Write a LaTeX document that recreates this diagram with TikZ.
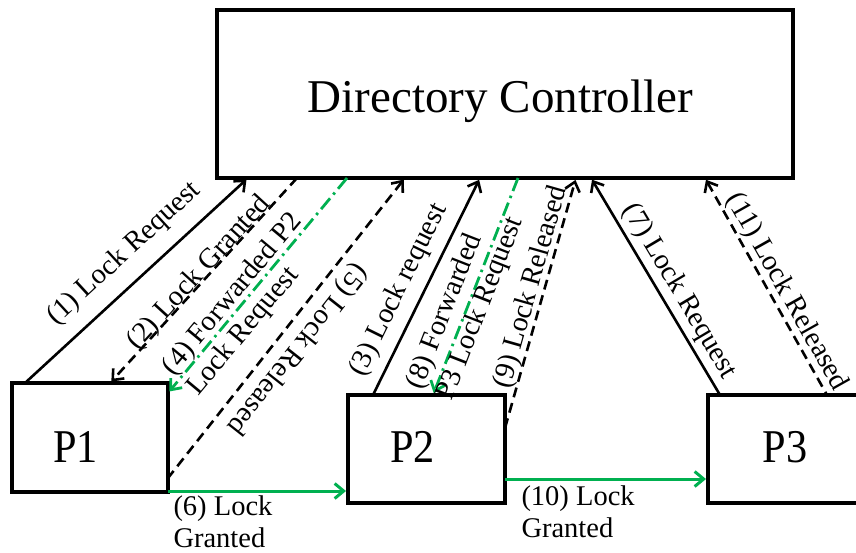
\documentclass[tikz,border=0pt]{standalone}
\usepackage{fontspec}
\setmainfont{Liberation Serif}
\usetikzlibrary{arrows.meta,calc}
\definecolor{grantgreen}{RGB}{0,176,80}
\begin{document}
\begin{tikzpicture}[x=1pt,y=-1pt,
  box/.style={draw, line width=4pt, rectangle, inner sep=0pt, outer sep=0pt},
  boxtext/.style={inner sep=0pt, anchor=base, font=\fontsize{47}{50}\selectfont},
  lbl/.style={inner sep=0pt, font=\fontsize{28.5}{32}\selectfont},
  tip/.tip={Straight Barb[length=9pt,width=15pt]},
  msg/.style={line width=2.6pt, line cap=butt},
  fwd/.style={msg, -tip, shorten >=2pt},
  back/.style={msg, tip-, shorten <=2pt},
  dashedmsg/.style={dash pattern=on 10pt off 6pt},
  forward/.style={msg, draw=grantgreen, line width=2.8pt,
    dash pattern=on 14pt off 5pt on 2.5pt off 5pt, -tip, shorten >=2pt},
  grant/.style={msg, draw=grantgreen, line width=3pt, -tip, shorten >=2pt},
]
\useasboundingbox (0,0) rectangle (856,552);

% the directory controller and the three processors
\node[box, minimum width=576pt, minimum height=168pt] (ctrl) at (505,94) {};
\node[box, minimum width=156pt, minimum height=109pt] (p1) at (90,437.5) {};
\node[box, minimum width=157pt, minimum height=108pt] (p2) at (426.5,449) {};
\node[box, minimum width=156pt, minimum height=108pt] (p3) at (786,449) {};

\node[boxtext] (ctrltext) at (500.5,112) {Directory Controller};
\node[boxtext, xscale=0.9] (p1text) at (75.5,462) {P1};
\node[boxtext, xscale=0.9] (p2text) at (412.5,462) {P2};
\node[boxtext, xscale=0.9] (p3text) at (785,462) {P3};

% attachment points on the controller
\coordinate (c1) at ($(ctrl.south west)+(31,0)$);
\coordinate (c2) at ($(ctrl.south west)+(80,0)$);
\coordinate (c3) at ($(ctrl.south west)+(130,0)$);
\coordinate (c4) at ($(ctrl.south west)+(188,0)$);
\coordinate (c5) at ($(ctrl.south west)+(263,0)$);
\coordinate (c6) at ($(ctrl.south west)+(301,0)$);
\coordinate (c7) at ($(ctrl.south west)+(359,0)$);
\coordinate (c8) at ($(ctrl.south west)+(374,0)$);
\coordinate (c9) at ($(ctrl.south west)+(488,0)$);

% attachment points on the processors
\coordinate (p1a) at ($(p1.north west)+(13,0)$);
\coordinate (p1b) at ($(p1.north west)+(98,0)$);
\coordinate (p1c) at ($(p1.north east)+(0,10)$);
\coordinate (p1d) at ($(p1.south east)+(0,-14)$);
\coordinate (p1e) at ($(p1.south east)+(0,-1)$);
\coordinate (p2a) at ($(p2.north west)+(25,0)$);
\coordinate (p2b) at ($(p2.north west)+(85,0)$);
\coordinate (p2c) at ($(p2.north east)+(0,33)$);
\coordinate (p2d) at ($(p2.south west)+(0,-12)$);
\coordinate (p2e) at ($(p2.south east)+(0,-24)$);
\coordinate (p3a) at ($(p3.north west)+(12,0)$);
\coordinate (p3b) at ($(p3.north west)+(119,0)$);
\coordinate (p3c) at ($(p3.south west)+(0,-24)$);

% P1 <-> controller
\draw[fwd] (p1a) -- (c1)
  node[lbl, sloped, pos=0.53, yshift=28pt] (l1) {(1) Lock Request};
\draw[fwd, dashedmsg] (c2) -- (p1b)
  node[lbl, sloped, pos=0.49, yshift=8pt] (l2) {(2) Lock Granted};
\draw[forward] (c3) -- (p1c)
  node[lbl, sloped, pos=0.581, yshift=-3pt, align=left] (l4) {(4) Forwarded P2\\Lock Request};
\draw[back, dashedmsg] (c4) -- (p1d)
  node[lbl, sloped, allow upside down, pos=0.526, yshift=21pt] (l5) {(5) Lock Released};

% P2 <-> controller
\draw[fwd] (p2a) -- (c5)
  node[lbl, sloped, pos=0.436, yshift=23pt] (l3) {(3) Lock request};
\draw[forward] (c6) -- (p2b)
  node[lbl, sloped, pos=0.581, yshift=3pt, align=left] (l8) {(8) Forwarded\\P3 Lock Request};
\draw[fwd, dashedmsg] (p2c) -- (c7)
  node[lbl, sloped, pos=0.549, yshift=13pt] (l9) {(9) Lock Released};

% P3 <-> controller
\draw[back] (c8) -- (p3a)
  node[lbl, sloped, pos=0.565, yshift=18pt] (l7) {(7) Lock Request};
\draw[back, dashedmsg] (c9) -- (p3b)
  node[lbl, sloped, pos=0.56, yshift=15pt] (l11) {(11) Lock Released};

% direct lock hand-overs between processors
\draw[grant] (p1e) -- (p2d)
  node[lbl, at start, anchor=north west, xshift=4pt, yshift=-3pt, align=left] (l6) {(6) Lock\\Granted};
\draw[grant] (p2e) -- (p3c)
  node[lbl, at start, anchor=north west, xshift=15pt, yshift=-5pt, align=left] (l10) {(10) Lock\\Granted};
\end{tikzpicture}
\end{document}
